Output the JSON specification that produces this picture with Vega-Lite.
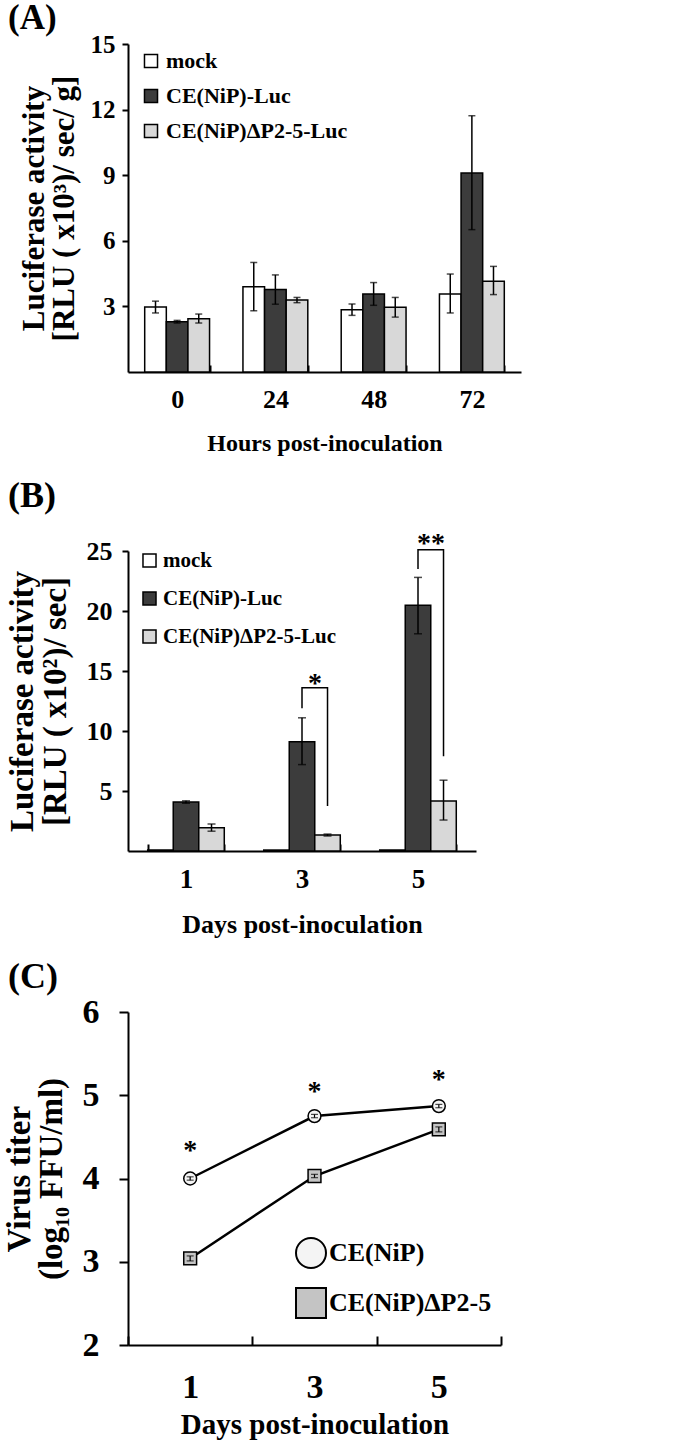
{
  "$schema": "https://vega.github.io/schema/vega-lite/v6.json",
  "background": "white",
  "padding": {"left": 3, "top": 1, "right": 5, "bottom": 5},
  "spacing": 22,
  "resolve": {
    "scale": {"fill": "independent", "shape": "independent", "color": "independent", "xOffset": "independent", "x": "independent", "y": "independent"},
    "legend": {"fill": "independent", "shape": "independent", "color": "independent"}
  },
  "datasets": {
    "a": [
      {"hour": "0", "series": "mock", "value": 2.97, "lo": 2.70, "hi": 3.24},
      {"hour": "0", "series": "CE(NiP)-Luc", "value": 2.30, "lo": 2.24, "hi": 2.36},
      {"hour": "0", "series": "CE(NiP)ΔP2-5-Luc", "value": 2.44, "lo": 2.24, "hi": 2.65},
      {"hour": "24", "series": "mock", "value": 3.90, "lo": 2.80, "hi": 5.01},
      {"hour": "24", "series": "CE(NiP)-Luc", "value": 3.77, "lo": 3.10, "hi": 4.44},
      {"hour": "24", "series": "CE(NiP)ΔP2-5-Luc", "value": 3.29, "lo": 3.17, "hi": 3.41},
      {"hour": "48", "series": "mock", "value": 2.85, "lo": 2.59, "hi": 3.11},
      {"hour": "48", "series": "CE(NiP)-Luc", "value": 3.57, "lo": 3.05, "hi": 4.09},
      {"hour": "48", "series": "CE(NiP)ΔP2-5-Luc", "value": 2.96, "lo": 2.51, "hi": 3.41},
      {"hour": "72", "series": "mock", "value": 3.57, "lo": 2.70, "hi": 4.48},
      {"hour": "72", "series": "CE(NiP)-Luc", "value": 9.10, "lo": 6.51, "hi": 11.72},
      {"hour": "72", "series": "CE(NiP)ΔP2-5-Luc", "value": 4.15, "lo": 3.54, "hi": 4.83}
    ],
    "b": [
      {"day": "1", "series": "mock", "value": 0.08, "lo": null, "hi": null},
      {"day": "1", "series": "CE(NiP)-Luc", "value": 4.08, "lo": 3.98, "hi": 4.18},
      {"day": "1", "series": "CE(NiP)ΔP2-5-Luc", "value": 1.94, "lo": 1.65, "hi": 2.25},
      {"day": "3", "series": "mock", "value": 0.08, "lo": null, "hi": null},
      {"day": "3", "series": "CE(NiP)-Luc", "value": 9.11, "lo": 7.2, "hi": 11.1},
      {"day": "3", "series": "CE(NiP)ΔP2-5-Luc", "value": 1.33, "lo": 1.25, "hi": 1.41},
      {"day": "5", "series": "mock", "value": 0.08, "lo": null, "hi": null},
      {"day": "5", "series": "CE(NiP)-Luc", "value": 20.47, "lo": 18.1, "hi": 22.8},
      {"day": "5", "series": "CE(NiP)ΔP2-5-Luc", "value": 4.17, "lo": 2.58, "hi": 5.9}
    ],
    "bBrackets": [
      {"br": "b1", "day": "3", "series": "CE(NiP)-Luc", "y": 11.9, "ord": 0},
      {"br": "b1", "day": "3", "series": "CE(NiP)-Luc", "y": 13.6, "ord": 1},
      {"br": "b1", "day": "3", "series": "CE(NiP)ΔP2-5-Luc", "y": 13.6, "ord": 2},
      {"br": "b1", "day": "3", "series": "CE(NiP)ΔP2-5-Luc", "y": 3.75, "ord": 3},
      {"br": "b2", "day": "5", "series": "CE(NiP)-Luc", "y": 23.5, "ord": 0},
      {"br": "b2", "day": "5", "series": "CE(NiP)-Luc", "y": 25.1, "ord": 1},
      {"br": "b2", "day": "5", "series": "CE(NiP)ΔP2-5-Luc", "y": 25.1, "ord": 2},
      {"br": "b2", "day": "5", "series": "CE(NiP)ΔP2-5-Luc", "y": 7.9, "ord": 3}
    ],
    "bStars": [
      {"day": "3", "series": "CE(NiP)-Luc", "y": 14.4, "label": "*"},
      {"day": "5", "series": "CE(NiP)-Luc", "y": 26.1, "label": "**"}
    ],
    "c": [
      {"day": "1", "series": "CE(NiP)", "grp": "CE(NiP)", "value": 4.00, "lo": 3.98, "hi": 4.02},
      {"day": "3", "series": "CE(NiP)", "grp": "CE(NiP)", "value": 4.75, "lo": 4.73, "hi": 4.77},
      {"day": "5", "series": "CE(NiP)", "grp": "CE(NiP)", "value": 4.87, "lo": 4.85, "hi": 4.89},
      {"day": "1", "series": "CE(NiP)ΔP2-5", "grp": "CE(NiP)ΔP2-5", "value": 3.04, "lo": 3.01, "hi": 3.07},
      {"day": "3", "series": "CE(NiP)ΔP2-5", "grp": "CE(NiP)ΔP2-5", "value": 4.03, "lo": 4.01, "hi": 4.05},
      {"day": "5", "series": "CE(NiP)ΔP2-5", "grp": "CE(NiP)ΔP2-5", "value": 4.59, "lo": 4.56, "hi": 4.62}
    ],
    "cStars": [
      {"day": "1", "y": 4.4, "label": "*"},
      {"day": "3", "y": 5.11, "label": "*"},
      {"day": "5", "y": 5.26, "label": "*"}
    ]
  },
  "vconcat": [
    {
      "width": 393,
      "height": 328,
      "title": {"text": "(A)", "frame": "group", "anchor": "start", "dx": -120, "offset": -4, "fontSize": 35},
      "data": {"name": "a"},
      "encoding": {
        "x": {
          "field": "hour", "type": "nominal", "sort": ["0", "24", "48", "72"],
          "scale": {"paddingInner": 0.34, "paddingOuter": 0.17},
          "title": "Hours post-inoculation",
          "axis": {"labelAngle": 0, "tickBand": "extent", "tickSize": -7, "labelPadding": 21, "labelFontSize": 26, "titleFontSize": 24, "titlePadding": 19}
        },
        "xOffset": {
          "field": "series", "type": "nominal",
          "sort": ["mock", "CE(NiP)-Luc", "CE(NiP)ΔP2-5-Luc"],
          "scale": {"domain": ["mock", "CE(NiP)-Luc", "CE(NiP)ΔP2-5-Luc"], "paddingInner": 0, "paddingOuter": 0}
        }
      },
      "layer": [
        {
          "mark": {"type": "bar", "stroke": "black", "strokeWidth": 1.5},
          "encoding": {
            "y": {
              "field": "value", "type": "quantitative",
              "scale": {"domain": [0, 15], "nice": false},
              "axis": {
                "values": [3, 6, 9, 12, 15], "tickSize": 6, "labelPadding": 7, "labelFontSize": 25,
                "title": ["Luciferase activity", "[RLU ( x10³)/ sec/ g]"],
                "titleFontSize": 31, "titlePadding": 10, "titleLineHeight": 30
              }
            },
            "fill": {
              "field": "series", "type": "nominal",
              "scale": {"domain": ["mock", "CE(NiP)-Luc", "CE(NiP)ΔP2-5-Luc"], "range": ["#ffffff", "#3c3c3c", "#d8d8d8"]},
              "legend": {
                "title": null, "orient": "none", "legendX": 12, "legendY": 6,
                "symbolType": "square", "symbolSize": 170, "symbolStrokeColor": "black", "symbolStrokeWidth": 1.5,
                "labelFontSize": 22, "labelLimit": 400, "rowPadding": 13, "labelOffset": 4
              }
            }
          }
        },
        {
          "mark": {"type": "rule", "stroke": "black", "strokeWidth": 1.5},
          "encoding": {
            "y": {"field": "lo", "type": "quantitative", "scale": {"domain": [0, 15], "nice": false}},
            "y2": {"field": "hi"}
          }
        },
        {
          "mark": {"type": "tick", "color": "black", "thickness": 1.5, "size": 7},
          "encoding": {"y": {"field": "lo", "type": "quantitative", "scale": {"domain": [0, 15], "nice": false}}}
        },
        {
          "mark": {"type": "tick", "color": "black", "thickness": 1.5, "size": 7},
          "encoding": {"y": {"field": "hi", "type": "quantitative", "scale": {"domain": [0, 15], "nice": false}}}
        }
      ]
    },
    {
      "width": 348,
      "height": 300,
      "title": {"text": "(B)", "frame": "group", "anchor": "start", "dx": -120, "offset": 15},
      "encoding": {
        "x": {
          "field": "day", "type": "nominal", "sort": ["1", "3", "5"],
          "scale": {"paddingInner": 0.34, "paddingOuter": 0.17},
          "title": "Days post-inoculation",
          "axis": {"labelAngle": 0, "tickBand": "extent", "tickSize": -7, "labelPadding": 22, "labelFontSize": 27, "titleFontSize": 26, "titlePadding": 19}
        },
        "xOffset": {
          "field": "series", "type": "nominal",
          "sort": ["mock", "CE(NiP)-Luc", "CE(NiP)ΔP2-5-Luc"],
          "scale": {"domain": ["mock", "CE(NiP)-Luc", "CE(NiP)ΔP2-5-Luc"], "paddingInner": 0, "paddingOuter": 0}
        }
      },
      "layer": [
        {
          "data": {"name": "b"},
          "mark": {"type": "bar", "stroke": "black", "strokeWidth": 1.5},
          "encoding": {
            "y": {
              "field": "value", "type": "quantitative",
              "scale": {"domain": [0, 25], "nice": false},
              "axis": {
                "values": [5, 10, 15, 20, 25], "tickSize": 6, "labelPadding": 10, "labelFontSize": 26,
                "title": ["Luciferase activity", "[RLU ( x10²)/ sec]"],
                "titleFontSize": 33, "titlePadding": 14, "titleLineHeight": 33
              }
            },
            "fill": {
              "field": "series", "type": "nominal",
              "scale": {"domain": ["mock", "CE(NiP)-Luc", "CE(NiP)ΔP2-5-Luc"], "range": ["#ffffff", "#3c3c3c", "#d8d8d8"]},
              "legend": {
                "title": null, "orient": "none", "legendX": 11, "legendY": -1,
                "symbolType": "square", "symbolSize": 170, "symbolStrokeColor": "black", "symbolStrokeWidth": 1.5,
                "labelFontSize": 21, "labelLimit": 400, "rowPadding": 16, "labelOffset": 3
              }
            }
          }
        },
        {
          "data": {"name": "b"},
          "mark": {"type": "rule", "stroke": "black", "strokeWidth": 1.5},
          "encoding": {
            "y": {"field": "lo", "type": "quantitative", "scale": {"domain": [0, 25], "nice": false}},
            "y2": {"field": "hi"}
          }
        },
        {
          "data": {"name": "b"},
          "mark": {"type": "tick", "color": "black", "thickness": 1.5, "size": 8},
          "encoding": {"y": {"field": "lo", "type": "quantitative", "scale": {"domain": [0, 25], "nice": false}}}
        },
        {
          "data": {"name": "b"},
          "mark": {"type": "tick", "color": "black", "thickness": 1.5, "size": 8},
          "encoding": {"y": {"field": "hi", "type": "quantitative", "scale": {"domain": [0, 25], "nice": false}}}
        },
        {
          "data": {"name": "bBrackets"},
          "mark": {"type": "line", "stroke": "black", "strokeWidth": 1.5},
          "encoding": {
            "y": {"field": "y", "type": "quantitative", "scale": {"domain": [0, 25], "nice": false}},
            "order": {"field": "ord", "type": "quantitative"},
            "detail": {"field": "br", "type": "nominal"}
          }
        },
        {
          "data": {"name": "bStars"},
          "mark": {"type": "text", "dx": 13, "fontSize": 28, "fontWeight": "bold", "baseline": "middle", "align": "center", "dy": 6},
          "encoding": {
            "y": {"field": "y", "type": "quantitative", "scale": {"domain": [0, 25], "nice": false}},
            "text": {"field": "label", "type": "nominal"}
          }
        }
      ]
    },
    {
      "width": 373,
      "height": 333,
      "title": {"text": "(C)", "frame": "group", "anchor": "start", "dx": -120, "offset": -1},
      "encoding": {
        "x": {
          "field": "day", "type": "nominal", "sort": ["1", "3", "5"],
          "scale": {"paddingInner": 0, "paddingOuter": 0},
          "title": "Days post-inoculation",
          "axis": {"labelAngle": 0, "tickBand": "extent", "tickSize": -9, "labelPadding": 34, "labelFontSize": 34, "titleFontSize": 29, "titlePadding": 6}
        }
      },
      "layer": [
        {
          "data": {"name": "c"},
          "mark": {"type": "line", "strokeWidth": 2.5},
          "encoding": {
            "y": {
              "field": "value", "type": "quantitative",
              "scale": {"domain": [2, 6], "nice": false},
              "axis": {
                "values": [2, 3, 4, 5, 6], "format": "d", "tickSize": 9, "labelPadding": 20, "labelFontSize": 34,
                "title": ["Virus titer", "(log₁₀ FFU/ml)"],
                "titleFontSize": 33, "titlePadding": 14, "titleLineHeight": 32
              }
            },
            "color": {
              "field": "grp", "type": "nominal",
              "scale": {"domain": ["CE(NiP)", "CE(NiP)ΔP2-5"], "range": ["#000000", "#000000"]},
              "legend": {
                "title": null, "orient": "none", "legendX": 167, "legendY": 225,
                "symbolSize": 900, "symbolStrokeWidth": 2,
                "labelFontSize": 26, "labelLimit": 400, "rowPadding": 12, "labelOffset": 2,
                "encode": {
                  "symbols": {
                    "update": {
                      "shape": {"signal": "datum.value === 'CE(NiP)' ? 'M-1,0L1,0M-0.42,0A0.42,0.42,0,1,1,0.42,0A0.42,0.42,0,1,1,-0.42,0Z' : 'M-1,0L1,0M-0.42,-0.42L0.42,-0.42L0.42,0.42L-0.42,0.42Z'"},
                      "fill": {"value": "#ffffff"},
                      "strokeWidth": {"value": 2}
                    }
                  }
                }
              }
            }
          }
        },
        {
          "data": {"name": "c"},
          "mark": {"type": "point", "filled": true, "stroke": "black", "strokeWidth": 1.5, "size": 165, "opacity": 1},
          "encoding": {
            "y": {"field": "value", "type": "quantitative", "scale": {"domain": [2, 6], "nice": false}},
            "shape": {
              "field": "series", "type": "nominal",
              "scale": {"domain": ["CE(NiP)", "CE(NiP)ΔP2-5"], "range": ["circle", "square"]},
              "legend": null
            },
            "fill": {
              "field": "series", "type": "nominal",
              "scale": {"domain": ["CE(NiP)", "CE(NiP)ΔP2-5"], "range": ["#f4f4f4", "#c4c4c4"]},
              "legend": null
            }
          }
        },
        {
          "data": {"name": "c"},
          "mark": {"type": "rule", "stroke": "black", "strokeWidth": 1.2},
          "encoding": {
            "y": {"field": "lo", "type": "quantitative", "scale": {"domain": [2, 6], "nice": false}},
            "y2": {"field": "hi"}
          }
        },
        {
          "data": {"name": "c"},
          "mark": {"type": "tick", "color": "black", "thickness": 1.2, "size": 7},
          "encoding": {"y": {"field": "lo", "type": "quantitative", "scale": {"domain": [2, 6], "nice": false}}}
        },
        {
          "data": {"name": "c"},
          "mark": {"type": "tick", "color": "black", "thickness": 1.2, "size": 7},
          "encoding": {"y": {"field": "hi", "type": "quantitative", "scale": {"domain": [2, 6], "nice": false}}}
        },
        {
          "data": {"name": "cStars"},
          "mark": {"type": "text", "fontSize": 28, "fontWeight": "bold", "baseline": "middle", "align": "center", "dy": 6},
          "encoding": {
            "y": {"field": "y", "type": "quantitative", "scale": {"domain": [2, 6], "nice": false}},
            "text": {"field": "label", "type": "nominal"}
          }
        }
      ]
    }
  ],
  "config": {
    "font": "Liberation Serif",
    "view": {"stroke": null},
    "title": {"font": "Liberation Serif", "fontWeight": "bold", "fontSize": 36, "color": "black"},
    "axis": {
      "grid": false,
      "labelFont": "Liberation Serif", "labelFontWeight": "bold", "labelColor": "black",
      "titleFont": "Liberation Serif", "titleFontWeight": "bold", "titleColor": "black",
      "domainColor": "black", "domainWidth": 2, "tickColor": "black", "tickWidth": 2
    },
    "legend": {
      "labelFont": "Liberation Serif", "labelFontWeight": "bold", "labelColor": "black"
    },
    "text": {"font": "Liberation Serif", "color": "black"}
  }
}
